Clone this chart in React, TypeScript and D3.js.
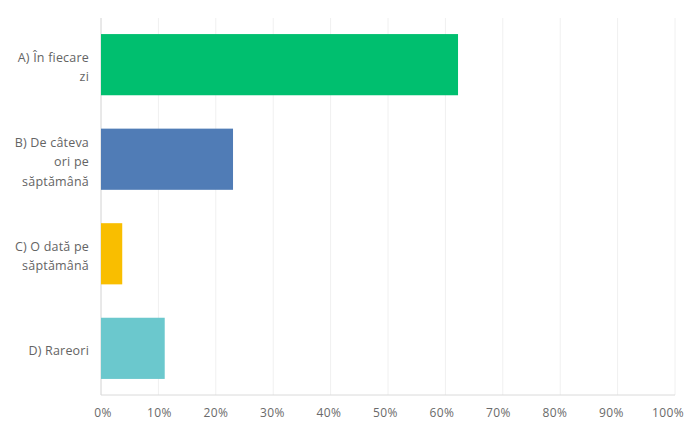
import React from "react";
import * as d3 from "d3";

const categories: string[][] = [
  ["A) În fiecare", "zi"],
  ["B) De câteva", "ori pe", "săptămână"],
  ["C) O dată pe", "săptămână"],
  ["D) Rareori"],
];
const values: number[] = [62.2, 23.0, 3.7, 11.1];
const colors: string[] = ["#00BF6F", "#507CB6", "#F9BE00", "#6BC8CD"];
const ticks: number[] = [0, 10, 20, 30, 40, 50, 60, 70, 80, 90, 100];

export default function App() {
  const W = 700, H = 437;
  const left = 101, right = 675, top = 18, bottom = 395;
  const x = d3.scaleLinear().domain([0, 100]).range([left, right]);
  const xLabel = d3.scaleLinear().domain([0, 100]).range([103, 668]);
  const y = d3.scaleBand<number>().domain(d3.range(categories.length)).range([top, bottom]).paddingInner(0.353).paddingOuter(0.17);
  const lh = 19.5;
  const font = "'Open Sans', Lato, sans-serif";
  return (
    <svg width={W} height={H} style={{ position: "absolute", left: 0, top: 0, background: "#fff" }}>
      {ticks.map((t) => (
        <line key={"g" + t} x1={x(t)} x2={x(t)} y1={top} y2={bottom} stroke="#f0f0f0" strokeWidth={1} />
      ))}
      <line x1={left} x2={left} y1={top} y2={bottom} stroke="#dadada" />
      <line x1={left} x2={right} y1={bottom} y2={bottom} stroke="#dadada" />
      {values.map((v, i) => (
        <rect key={"b" + i} x={x(0)} y={y(i)} width={x(v) - x(0)} height={y.bandwidth()} fill={colors[i]} />
      ))}
      {categories.map((lines, i) => {
        const cy = (y(i) as number) + y.bandwidth() / 2 + 2.5;
        const start = cy - ((lines.length - 1) * lh) / 2;
        return (
          <text key={"l" + i} textAnchor="end" fontFamily={font} fontSize={12.5} letterSpacing={0.2} fill="#646464">
            {lines.map((ln, j) => (
              <tspan key={j} x={89} y={start + j * lh} dy="0.35em">{ln}</tspan>
            ))}
          </text>
        );
      })}
      {ticks.map((t) => (
        <text key={"t" + t} x={xLabel(t)} y={413} dy="0.35em" textAnchor="middle" fontFamily={font} fontSize={12} letterSpacing={0.4} fill="#6a6a6a">
          {t + "%"}
        </text>
      ))}
    </svg>
  );
}
